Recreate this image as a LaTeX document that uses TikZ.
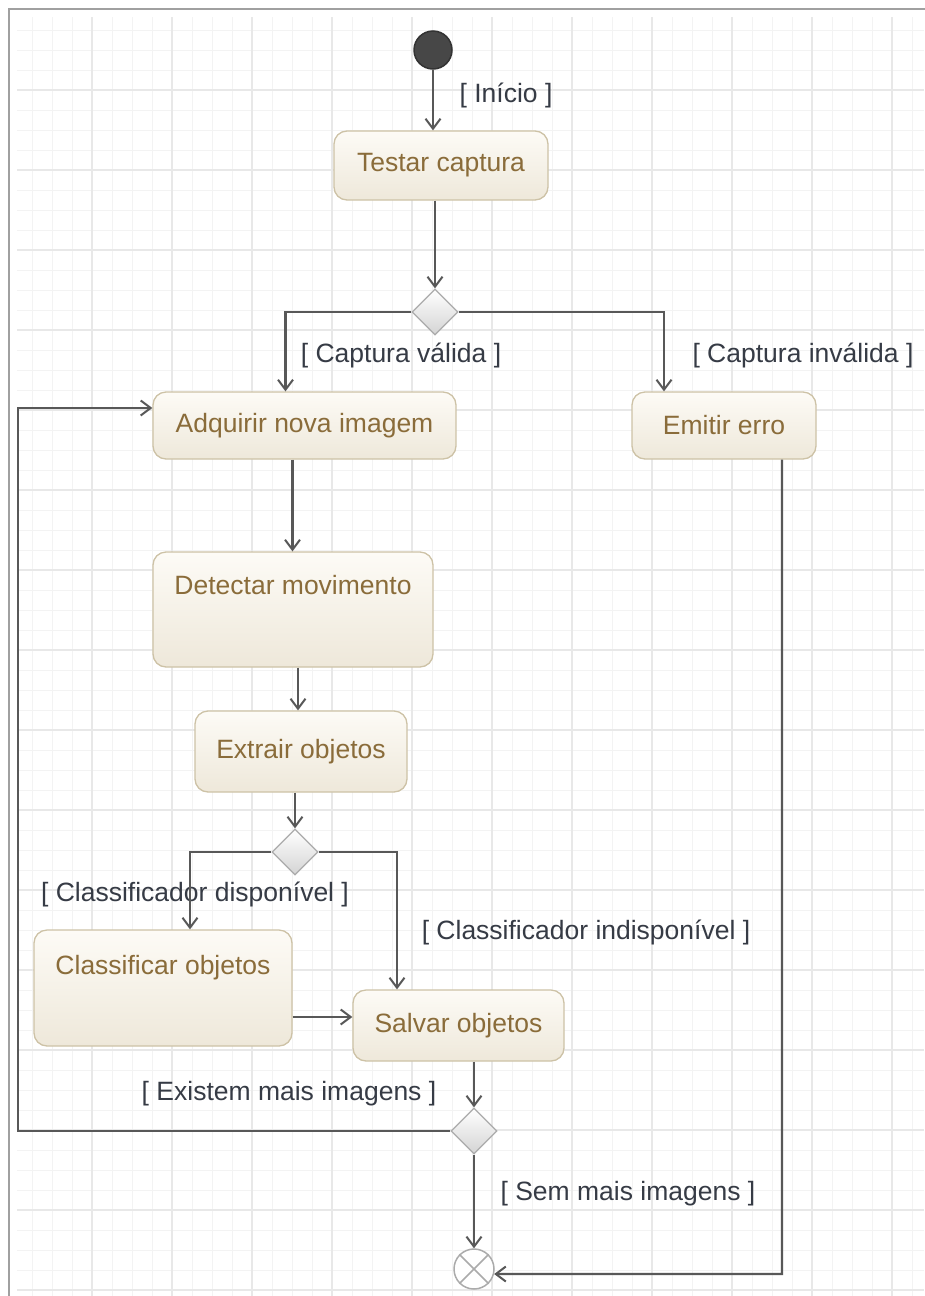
\documentclass[tikz,border=0pt]{standalone}
\usepackage{fontspec}
\setmainfont{Liberation Sans}
\usetikzlibrary{shapes.geometric,arrows.meta}
\definecolor{gridminor}{HTML}{F3F3F3}
\definecolor{gridmajor}{HTML}{E8E8E8}
\definecolor{framec}{HTML}{A0A0A0}
\definecolor{linec}{HTML}{585858}
\definecolor{boxtop}{HTML}{FDFBF6}
\definecolor{boxbot}{HTML}{EEE8DA}
\definecolor{boxborder}{HTML}{CDC2A6}
\definecolor{boxtext}{HTML}{8A6C3A}
\definecolor{lblc}{HTML}{363B45}
\definecolor{diabot}{HTML}{D4D4D4}
\definecolor{diaborder}{HTML}{ABABAB}
\begin{document}
\begin{tikzpicture}[x=1pt,y=-1pt,
  act/.style={draw=boxborder, line width=1.3pt, rounded corners=13pt,
    top color=boxtop, bottom color=boxbot, text=boxtext,
    font=\fontsize{26.5}{30}\selectfont, inner sep=0pt},
  decision/.style={diamond, draw=diaborder, line width=1.3pt, top color=white,
    bottom color=diabot, minimum width=46pt, minimum height=46pt, inner sep=0pt},
  lbl/.style={text=lblc, font=\fontsize{26.5}{30}\selectfont, inner sep=0pt},
  flow/.style={draw=linec, line width=2.2pt,
    -{Straight Barb[length=10pt,width=15pt,line width=2pt]}},
  gmin/.style={draw=gridminor, line width=1pt},
  gmaj/.style={draw=gridmajor, line width=1.8pt}]
\useasboundingbox (0,0) rectangle (924,1296);
\fill[white] (0,0) rectangle (924,1296);
% grid
\begin{scope}
\clip (17,17) rectangle (924,1296);
\foreach \x in {32,52,...,912} \draw[gmin] (\x,17) -- (\x,1296);
\foreach \y in {30,50,...,1290} \draw[gmin] (17,\y) -- (924,\y);
\foreach \x in {92,172,...,892} \draw[gmaj] (\x,17) -- (\x,1296);
\foreach \y in {90,170,...,1290} \draw[gmaj] (17,\y) -- (924,\y);
\end{scope}
\draw[framec, line width=1.5pt] (9,1300) -- (9,9) -- (930,9);

% nodes
\node[circle, draw=black!80, fill=black!72, line width=1.5pt, minimum size=38pt, inner sep=0pt] (start) at (433,50) {};
\node[act, minimum width=214pt, minimum height=69pt] (testar) at (441,165.5) {Testar captura};
\node[decision] (d1) at (435,312) {};
\node[act, minimum width=303pt, minimum height=67pt] (adquirir) at (304.5,425.5) {Adquirir nova imagem};
\node[act, minimum width=184pt, minimum height=67pt] (emitir) at (724,425.5) {Emitir erro};
\node[act, minimum width=280pt, text height=42pt, text depth=73pt] (detectar) at (293,609.5) {Detectar movimento};
\node[act, minimum width=212pt, minimum height=81pt] (extrair) at (301,751.5) {Extrair objetos};
\node[decision] (d2) at (295,852) {};
\node[act, minimum width=258pt, text height=44pt, text depth=72pt] (classificar) at (163,988) {Classificar objetos};
\node[act, minimum width=211pt, minimum height=71pt] (salvar) at (458.5,1025.5) {Salvar objetos};
\node[decision] (d3) at (474,1131) {};
\node[circle, draw=diaborder, fill=white, line width=1.5pt, minimum size=40pt, inner sep=0pt] (final) at (474,1269) {};
\draw[diaborder, line width=1.5pt] (final.45) -- (final.225) (final.135) -- (final.315);

% labels
\node[lbl] (linicio) at (506,95) {[ Início ]};
\node[lbl] (lvalida) at (401,355) {[ Captura válida ]};
\node[lbl] (linvalida) at (803,355) {[ Captura inválida ]};
\node[lbl] (ldisp) at (195,894) {[ Classificador disponível ]};
\node[lbl] (lindisp) at (586,932) {[ Classificador indisponível ]};
\node[lbl] (lexist) at (289,1094) {[ Existem mais imagens ]};
\node[lbl] (lsem) at (628,1194) {[ Sem mais imagens ]};

% connectors
\draw[flow] (start.south) -- (start.south |- testar.north);
\draw[flow] (d1.north |- testar.south) -- (d1.north);
\draw[flow] (d1.west) -| ([xshift=-19pt]adquirir.north);
\draw[flow] (d1.east) -| ([xshift=-60pt]emitir.north);
\draw[flow] ([xshift=-12pt]adquirir.south) -- ([xshift=-12pt]adquirir.south |- detectar.north);
\draw[flow] ([xshift=5pt]detectar.south) -- ([xshift=5pt]detectar.south |- extrair.north);
\draw[flow] (d2.north |- extrair.south) -- (d2.north);
\draw[flow] (d2.west) -| ([xshift=27pt]classificar.north);
\draw[flow] (d2.east) -| ([xshift=-61.5pt]salvar.north);
\draw[flow] ([yshift=-29pt]classificar.east) -- ([yshift=-29pt]classificar.east -| salvar.west);
\draw[flow] (d3.north |- salvar.south) -- (d3.north);
\coordinate (loopc) at (18,408);
\draw[flow] (d3.west) -| (loopc) -- (loopc -| adquirir.west);
\draw[flow] (d3.south) -- (final.north);
\coordinate (ecorner) at (782,1274);
\draw[flow] ([xshift=58pt]emitir.south) -- (ecorner) -- (final.-14);
\end{tikzpicture}
\end{document}
